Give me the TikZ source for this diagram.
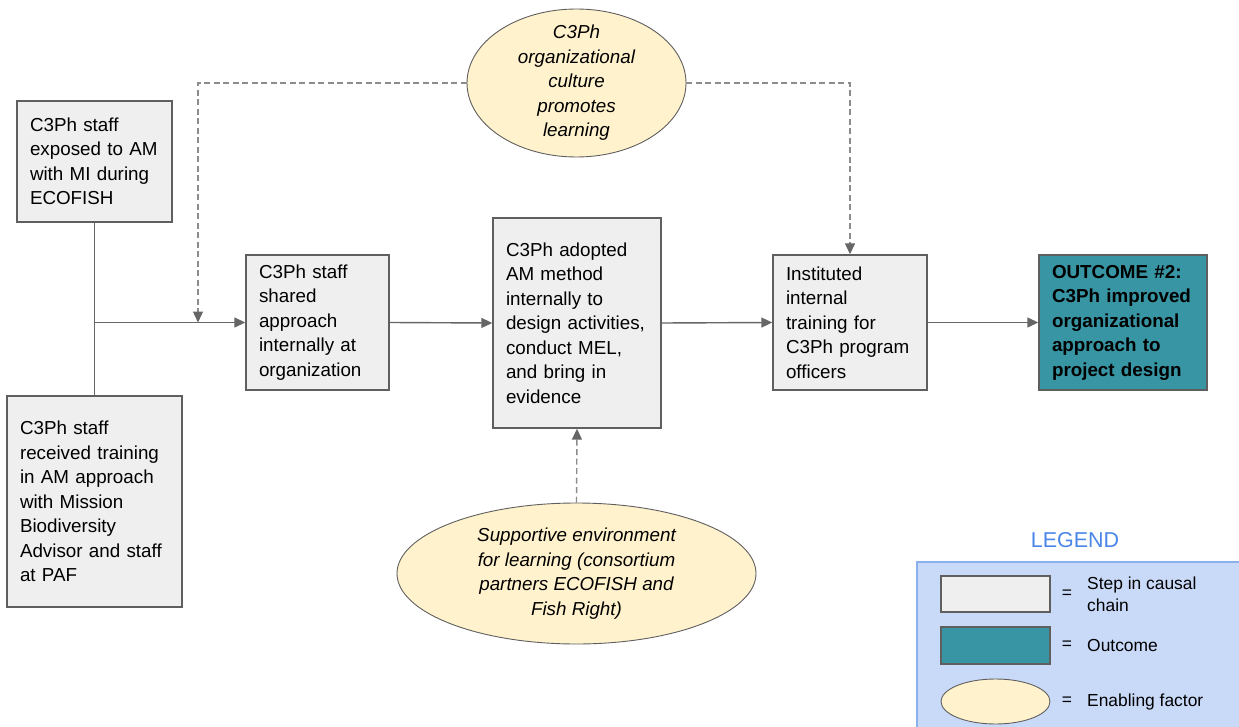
\documentclass[tikz,border=0pt]{standalone}
\usepackage{fontspec}
\setmainfont{Liberation Sans}
\usetikzlibrary{shapes.geometric,arrows.meta}

\definecolor{stepgray}{HTML}{EFEFEF}
\definecolor{boxline}{HTML}{5F5F5F}
\definecolor{outteal}{HTML}{3895A4}
\definecolor{factoryellow}{HTML}{FFF2CC}
\definecolor{linkgray}{HTML}{666666}
\definecolor{dashgray}{HTML}{8C8C8C}
\definecolor{legendblue}{HTML}{C9DAF8}
\definecolor{legendline}{HTML}{8AB0EE}
\definecolor{legendtitle}{HTML}{4A86E8}

\newcommand{\stepfont}{\fontsize{18.8}{24.5}\selectfont}
\newcommand{\keyfont}{\fontsize{17.4}{22}\selectfont}

\tikzset{
  stepbox/.style={rectangle, draw=boxline, line width=1.4pt, fill=stepgray,
    align=left, inner xsep=13pt, inner ysep=0pt, font=\stepfont},
  outcomebox/.style={stepbox, fill=outteal, font=\stepfont\bfseries},
  factor/.style={ellipse, draw=boxline, line width=0.9pt, fill=factoryellow, inner sep=0pt},
  factortext/.style={align=center, inner sep=0pt, font=\stepfont\itshape},
  link/.style={draw=linkgray, line width=1.4pt, -{Triangle[length=11pt,width=10pt]}},
  dashlink/.style={draw=dashgray, line width=1.4pt, dash pattern=on 6pt off 3.5pt,
    -{Triangle[length=11pt,width=10pt,color=linkgray]}},
}

\begin{document}
\begin{tikzpicture}[x=1pt,y=-1pt]
  \useasboundingbox (0,0) rectangle (1239,727);

  % causal chain
  \node[stepbox, text width=129pt, minimum height=121pt] (exposed) at (94.5,161.5)
    {C3Ph staff\\exposed to AM\\with MI during\\ECOFISH};
  \node[stepbox, text width=149pt, minimum height=211pt] (received) at (94.5,501.5)
    {C3Ph staff\\received training\\in AM approach\\with Mission\\Biodiversity\\Advisor and staff\\at PAF};
  \node[stepbox, text width=117pt, minimum height=135pt] (shared) at (317.5,322.5)
    {C3Ph staff\\shared\\approach\\internally at\\organization};
  \node[stepbox, text width=142pt, minimum height=210pt] (adopted) at (577,323)
    {C3Ph adopted\\AM method\\internally to\\design activities,\\conduct MEL,\\and bring in\\evidence};
  \node[stepbox, text width=128pt, minimum height=135pt] (training) at (850,322.5)
    {Instituted\\internal\\training for\\C3Ph program\\officers};
  \node[outcomebox, text width=142pt, minimum height=135pt] (outcome) at (1123,322.5)
    {OUTCOME \#2:\\C3Ph improved\\organizational\\approach to\\project design};

  % enabling factors
  \node[factor, minimum width=219pt, minimum height=148pt] (culture) at (576.5,83) {};
  \node[factortext] (culturetext) at (culture.center)
    {C3Ph\\organizational\\culture\\promotes\\learning};
  \node[factor, minimum width=359pt, minimum height=141pt] (support) at (576.5,573.5) {};
  \node[factortext] (supporttext) at (support.center)
    {Supportive environment\\for learning (consortium\\partners ECOFISH and\\Fish Right)};

  \coordinate (merge) at (94.5,322.5);
  \coordinate (drop) at (198,322.5);

  \draw[draw=linkgray, line width=1.4pt] (exposed.south) -- (merge) -- (received.north);
  \draw[link] (merge) -- (shared.west);
  \draw[link] (shared.east) -- (adopted.west);
  \draw[link] (adopted.east) -- (training.west);
  \draw[link] (training.east) -- (outcome.west);

  \draw[dashlink] (culture.west) -| (drop);
  \draw[dashlink] (culture.east) -| (training.north);
  \draw[dashlink] (support.north) -- (adopted.south);

  % legend
  \draw[draw=legendline, fill=legendblue, line width=1.2pt] (917,562) rectangle (1250,740);
  \node[font=\fontsize{21.5}{24}\selectfont, text=legendtitle] (legendhead) at (1075,540) {LEGEND};
  \node[stepbox, minimum width=109pt, minimum height=36pt] (keystep) at (995.5,594) {};
  \node[outcomebox, minimum width=109pt, minimum height=37pt] (keyoutcome) at (995.5,645.5) {};
  \node[factor, minimum width=109pt, minimum height=45pt] (keyfactor) at (995.5,701.5) {};
  \node[font=\keyfont] (eqstep) at (1067,594) {=};
  \node[font=\keyfont] (eqoutcome) at (1067,645.5) {=};
  \node[font=\keyfont] (eqfactor) at (1067,701.5) {=};
  \node[font=\keyfont, anchor=west, align=left, inner sep=0pt] (keysteptext) at (1087,594)
    {Step in causal\\chain};
  \node[font=\keyfont, anchor=west, inner sep=0pt] (keyoutcometext) at (1087,645.5) {Outcome};
  \node[font=\keyfont, anchor=west, inner sep=0pt] (keyfactortext) at (1087,701.5) {Enabling factor};
\end{tikzpicture}
\end{document}
